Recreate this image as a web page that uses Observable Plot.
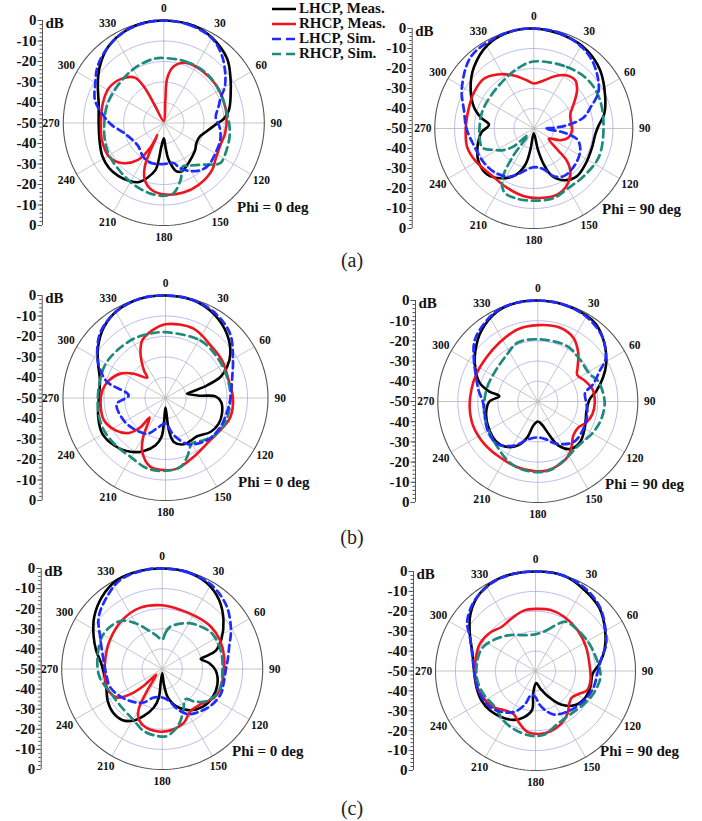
<!DOCTYPE html>
<html><head><meta charset="utf-8">
<script src="https://cdn.jsdelivr.net/npm/d3@7"></script>
<script src="https://cdn.jsdelivr.net/npm/@observablehq/plot@0.6"></script>
<style>
body{margin:0;background:#fff;}
#page{position:relative;width:702px;height:821px;overflow:hidden;font-family:"Liberation Serif","Times New Roman",serif;color:#111;}
#page svg, #page svg text{font-family:"Liberation Serif","Times New Roman",serif !important;font-weight:bold;}
.panel{position:absolute;}
.phi{position:absolute;font-weight:bold;font-size:15px;white-space:nowrap;line-height:15px;height:15px;}
.sub{position:absolute;font-size:20px;line-height:1;transform:translate(-50%,-50%);color:#222;}
.leg{position:absolute;display:flex;align-items:center;font-weight:bold;font-size:15px;line-height:13px;height:13px;white-space:nowrap;}
.leg svg{margin-right:2px;display:block;}
</style></head><body><div id="page"></div>
<script>
// ---------- DATA: [angle (deg, clockwise from top), level (dB)] ----------
const angleTicks = [0,30,60,90,120,150,180,210,240,270,300,330];
const dbTicks = [-50,-40,-30,-20,-10,0,10,20,30,40,50]; // axis offsets; label = |v| - 50
const gridLevels = [-40,-30,-20,-10];
const seriesNames = ["LHCP, Meas.","RHCP, Meas.","LHCP, Sim.","RHCP, Sim."];
const panelLetters = ["(a)","(b)","(c)"];
const phiLabels = ["Phi = 0 deg","Phi = 90 deg"];

// (a) Phi = 0
const aL_LHCP_meas = [[0,0],[18,-0.3],[30,-2],[45,-5.5],[56,-10],[69,-14.4],[79,-17],[86,-20],[92,-24.4],[102,-28.7],[111,-31],[122,-31],[130,-29.6],[141,-28.1],[152,-26.1],[159,-24.8],[165,-25.6],[169,-28.5],[173,-32.7],[176,-38.5],[180,-42.5],[186,-38.4],[188,-31.9],[190,-26.9],[197,-22.1],[204,-18.4],[211,-17],[221,-15.7],[231,-15],[242,-15.4],[255,-16.9],[270,-17.6],[286,-16.3],[300,-12.1],[310,-8.2],[322,-4],[334,-1.6],[347,-0.2]];
const aL_RHCP_meas = [[0,-49],[4,-39],[4.5,-28],[10,-22],[21,-18.6],[37,-18.2],[54,-18.1],[70,-18.4],[83,-18.5],[100,-19.1],[109,-19.8],[125,-18.7],[133,-16.9],[150,-15.2],[164,-14.7],[180,-15.2],[191,-17],[199,-20.8],[204,-26.8],[206,-33.6],[208.4,-43.3],[209,-36.8],[215.5,-27.9],[227,-21.4],[239,-18.2],[255,-18.1],[270,-18.7],[287,-18.2],[302,-17.8],[316,-19.9],[327,-23.6],[331,-30.2],[332.6,-39.6]];
const aL_LHCP_sim = [[0,0],[15,-0.5],[30,-2.2],[41,-6.1],[51,-10.7],[60,-15],[66,-18.9],[75,-22],[83.5,-24],[95,-22],[106.5,-20.7],[120,-20.4],[132,-19.7],[141,-20.5],[151,-23.2],[160,-26.6],[166,-29.9],[180,-30],[198,-29.5],[212,-30.6],[229,-33],[255,-30],[268,-24],[276,-20.2],[288,-14],[299,-11],[310,-7],[322,-4],[335,-1.5],[348,-0.3]];
const aL_RHCP_sim = [[0,-18.3],[20,-18.1],[40,-17.8],[58,-18.2],[74,-18.4],[97,-16.9],[113,-16.1],[125,-15.8],[132,-19.7],[139,-23],[148,-25.5],[156,-26.8],[163,-21.2],[172,-15.4],[180,-14.5],[193,-15.1],[209,-16.7],[225,-18.1],[240,-18.6],[254,-19.5],[270,-20.4],[288,-20.5],[310,-20.7],[332,-19.5],[351,-18.3]];
// (a) Phi = 90
const aR_LHCP_meas = [[0,0],[20,-1.2],[34.5,-2.6],[49,-5.6],[66.6,-10.7],[78.5,-13.7],[87.7,-17.3],[95.3,-18.8],[108,-19.1],[124.6,-18.4],[137.5,-17.7],[148.3,-19.6],[158.8,-24.5],[164.3,-31.4],[169,-39.4],[180,-47.6],[189.2,-39.4],[193.2,-31.5],[201.6,-24.9],[213.9,-20],[225.6,-17.1],[238.3,-17.4],[248.5,-19.3],[258,-21.5],[266,-23.5],[274.7,-27.3],[281.7,-22.6],[289.3,-18],[302.9,-12],[315.5,-6.9],[330.6,-2.2],[344.3,-0.3]];
const aR_RHCP_meas = [[0,-27.5],[11.8,-25.5],[21.2,-22.1],[32.3,-18.6],[41.2,-18.1],[49,-21.1],[58.7,-26.4],[68.7,-30.2],[80.9,-31],[93.5,-30.7],[104.4,-31.9],[113.6,-35.4],[123.7,-40.9],[131.5,-34.3],[134.1,-26.7],[140.2,-21.1],[149.4,-17.1],[160.4,-14.9],[174.5,-15.1],[188.4,-15.8],[204.3,-17.4],[223.5,-18.3],[241,-16.4],[254.1,-15.1],[269.2,-15.6],[287.9,-15.6],[301,-14.8],[314.6,-14.6],[325.7,-17.3],[339.2,-21.6],[352,-25.8]];
const aR_LHCP_sim = [[0,0],[15,-0.5],[30,-2.5],[43,-5.7],[60,-12.2],[70,-19.6],[77.6,-24.2],[84,-32.3],[88,-40],[91,-44.1],[97.6,-34.8],[103.8,-27.5],[113.9,-24.3],[130.6,-22.4],[147.6,-21.8],[157,-24.1],[166,-28.9],[180,-30.7],[196.9,-26.8],[207.5,-22.8],[222,-20.5],[237,-19.5],[255,-18.5],[270,-16],[284,-13.7],[298.5,-8.6],[318.3,-2.1],[335,-0.8],[348,0]];
const aR_RHCP_sim = [[0,-16.5],[28.6,-15],[49,-13.4],[67.5,-13.7],[92,-14.8],[114,-14.2],[133.4,-15.3],[149.3,-15.5],[163.8,-13.8],[180,-13.9],[193.5,-13.9],[205,-14.8],[212,-20],[217,-32],[222,-45.5],[229,-36],[236,-30.5],[241,-27.9],[250,-22.3],[274.6,-22.6],[292.8,-22.7],[320.6,-22.2],[344.3,-19]];
// (b) Phi = 0
const bL_LHCP_meas = [[0,0],[16.2,-0.5],[29.8,-2.7],[43.8,-6.7],[55.7,-11.7],[63.3,-16.4],[69.1,-21.3],[73.1,-28.8],[76.1,-35.8],[78.7,-39.3],[86.2,-33],[88.1,-25.6],[94.1,-22.8],[105.5,-21.4],[115.7,-21.2],[127.1,-22.5],[140.4,-25.8],[150,-25.8],[158.4,-25.7],[169.3,-28.2],[174.1,-34.2],[180,-45.3],[183.7,-37.5],[185.9,-30.9],[191.9,-26.5],[202.2,-22.1],[213,-18.7],[227.5,-15.9],[240.6,-14.6],[254.2,-15.9],[270,-17.5],[285,-16.9],[297,-13.1],[307,-8.8],[319,-4.2],[331,-1.3],[346,0]];
const bL_RHCP_meas = [[0,-14],[22,-13.5],[40.5,-16.2],[56.4,-16.9],[74.4,-18],[90,-17.1],[106.3,-17],[118.4,-18.7],[133.3,-20],[154.3,-18.2],[170.6,-15.1],[180,-14.8],[192.3,-15.6],[203.4,-21.4],[209.8,-28.1],[219,-37.7],[220.5,-31.2],[226.3,-25.3],[237.1,-21],[250.1,-18.1],[265,-18.2],[277,-19],[287.3,-21.1],[298.4,-25],[307.5,-30.5],[318,-36.7],[322,-33],[330.6,-25.2],[338,-19.7],[348.9,-16.4]];
const bL_LHCP_sim = [[0,0],[15,-0.3],[30,-2],[45,-5.5],[60,-12],[75,-16.4],[90,-18.3],[102.8,-19.2],[117.8,-19.7],[134.5,-21],[153.3,-24.7],[167.4,-31.4],[180,-37.5],[193,-35.5],[207,-30.5],[230.4,-27.9],[247,-26.5],[263,-26],[274,-32],[285.3,-20.5],[293,-15.6],[301,-11.2],[315,-5],[330,-1.5],[345,0]];
const bL_RHCP_sim = [[0,-17.9],[31.3,-17.2],[51.6,-17.9],[71.2,-18.3],[90,-18.3],[110.1,-18.4],[124.6,-19.5],[137.8,-22.2],[149.7,-24.3],[159.8,-19.4],[167.7,-15.6],[180,-14.5],[194.5,-14.5],[210.7,-16.6],[226.6,-16.5],[242.3,-16.1],[256.9,-16.4],[270,-17],[285,-16.9],[299.8,-16.4],[314.6,-16.9],[331.9,-17.2],[345.5,-17.7]];
// (b) Phi = 90
const bR_LHCP_meas = [[0,0],[14.7,-0.3],[30,-1],[37.5,-2],[49.7,-6.2],[61.7,-11.2],[70,-15.3],[79.8,-20.2],[87.5,-24],[100.7,-25.2],[118.6,-23.2],[133.9,-20.8],[145.6,-21.5],[154.7,-25.8],[161.4,-33],[169.5,-38.3],[180,-40.1],[190.9,-37.8],[196.5,-31.5],[205,-25.9],[215.5,-22.5],[226.6,-21.3],[242.5,-22.2],[258.1,-23.6],[270,-25.8],[277.8,-30.6],[281.5,-25.3],[287.8,-19.4],[298.2,-14.5],[308.7,-10],[320.9,-5.1],[335.8,-1],[348.3,0]];
const bR_RHCP_meas = [[0,-12.2],[17,-11.8],[29.4,-13.8],[39.9,-18.5],[49.9,-24],[56.3,-26.3],[66.6,-24.3],[77.4,-22],[91,-21.5],[102.9,-22],[113,-23.5],[122.4,-26],[133.6,-25.5],[142.2,-22.3],[150.3,-19.1],[160.1,-17.1],[172.3,-15.5],[183.3,-15.5],[197.4,-15.9],[213.4,-16.5],[231.7,-16],[249.7,-15.5],[265,-15.8],[280.4,-16.3],[293.7,-16.4],[310,-16.3],[326.5,-15.1],[344,-12.9]];
const bR_LHCP_sim = [[0,0],[15,-0.3],[30,-1.5],[45,-4.5],[58,-10],[64,-15.6],[72.8,-21],[80,-26],[93,-25.6],[104.2,-24.5],[121,-23.5],[138.7,-23.1],[157.2,-27.5],[168.5,-31],[180,-32.2],[193.4,-30.9],[208.4,-25.2],[223.6,-20.9],[240,-21.1],[256.8,-22.7],[270,-22.5],[280,-20],[291,-17],[304,-11.4],[315,-5.8],[333.7,-1],[345,0]];
const bR_RHCP_sim = [[0,-19.2],[27.8,-18.9],[45.2,-20.4],[62.6,-20.7],[71.3,-18.2],[90,-16.6],[105.4,-17.1],[119,-18.4],[137.2,-20.2],[156.3,-18],[169.5,-15.5],[180,-15],[194.4,-15.5],[207.3,-17.1],[221.5,-19.7],[237.7,-21.4],[255.1,-22.4],[270,-23.3],[285.3,-23.7],[303.4,-24],[324.7,-22.4],[340.7,-19.2]];
// (c) Phi = 0
const cL_LHCP_meas = [[0,0],[14.5,-0.1],[27.9,-1.9],[39.7,-5.6],[51.6,-11.1],[63,-16.9],[71,-21.8],[73.5,-26.5],[75.4,-30.2],[82.7,-26.5],[91.8,-23.3],[105.3,-21.5],[119.5,-21.3],[133.3,-22.5],[145.4,-25.1],[158.3,-29.7],[168.7,-35.6],[173.7,-42.5],[180,-47.8],[186.3,-42.5],[186.7,-35.7],[192.3,-30.4],[201.4,-25],[210.1,-20.2],[218.3,-17.7],[228.5,-17.3],[239.8,-18.6],[251.8,-20.7],[265,-21],[276.2,-19.3],[285.6,-15.9],[296,-12],[307.4,-7.4],[320,-3.3],[333,-0.4],[347.6,0]];
const cL_RHCP_meas = [[0,-18.3],[17.3,-19.2],[34.1,-18.8],[48.8,-17.9],[63.8,-17.9],[79.3,-18.6],[94.7,-19.4],[107.4,-19.4],[118.7,-20.5],[132.4,-24],[145.8,-24.8],[157.9,-21.2],[169,-19.5],[181.5,-18.8],[194.3,-19.6],[205,-22.4],[210.3,-26.8],[214.7,-36.8],[226.6,-45.9],[227.7,-37.6],[231.7,-29.8],[237.8,-23.4],[249.8,-21],[265,-21.4],[281.7,-21.2],[300.1,-20.2],[320.4,-18.6],[340.4,-17.6]];
const cL_LHCP_sim = [[0,0],[15,-0.3],[30,-1.5],[45,-5],[60,-10.5],[72,-15],[82.7,-17.2],[90,-18.3],[103.8,-18.6],[113.2,-18.3],[127.2,-19.7],[141,-22.2],[150.9,-24.3],[159.4,-28.7],[168,-33.8],[180,-35.8],[196.4,-35.2],[208.8,-31],[218.7,-28.7],[234.7,-25.5],[250.5,-22.6],[265,-22],[281.2,-20],[297.2,-15.3],[309.2,-9.2],[322.5,-4.8],[335,-1],[350,0]];
const cL_RHCP_sim = [[0,-35.5],[5,-32],[11.1,-28.5],[30.3,-23.6],[42.2,-21.5],[55,-19.5],[72.6,-19.4],[88.4,-20],[110.9,-19.7],[125.1,-22.5],[135,-27],[142,-31],[153.3,-26.7],[163.1,-21.3],[175.7,-16.6],[184.3,-16.6],[196.6,-17.8],[209,-20.8],[228.7,-22.3],[245.7,-21.7],[262.4,-18.6],[280.3,-17.3],[301,-16],[318.8,-18.3],[329.7,-23.6],[340.8,-29.7],[350,-33]];
// (c) Phi = 90
const cR_LHCP_meas = [[0,0],[16.7,-0.1],[31,-2.5],[45.5,-5.1],[59.5,-9.6],[73.2,-14],[83.4,-17.8],[92.7,-21.4],[106.4,-21.4],[119.8,-21.9],[131.8,-24.1],[143.1,-28.9],[152.8,-35.2],[164.2,-40.7],[177,-43.9],[185.9,-38.5],[184.9,-30.4],[194.2,-26],[204,-23.1],[215.9,-21.3],[228.8,-19.8],[241.2,-19.2],[254.7,-19.4],[270,-19.3],[285.5,-17.3],[299.9,-12.1],[311.7,-6.5],[324.6,-2.1],[339.4,0]];
const cR_RHCP_meas = [[0,-18.8],[13.9,-18.4],[27.7,-19.2],[45.7,-20.6],[64.4,-22],[82.2,-22.8],[99.7,-22.1],[110.8,-22.5],[117.6,-25.3],[126.8,-27.5],[134.4,-26.4],[143.4,-23.2],[154.6,-20.5],[166,-18.8],[177,-18.3],[187.9,-19.2],[198.1,-22.9],[207,-25.8],[219.3,-24.7],[229.2,-22.2],[242.7,-20.6],[254.5,-19.8],[267.5,-19.7],[283.3,-19.4],[296.4,-19],[310.2,-20.2],[322.9,-22.1],[336,-21],[349,-19.1]];
const cR_LHCP_sim = [[0,0],[15,0],[30,-1.5],[45,-4.5],[60,-9.5],[70,-12.5],[78,-16.1],[90,-18.8],[105.5,-19.8],[119,-21.2],[137.8,-23.6],[157,-26.2],[165.7,-29.5],[174,-33.4],[180,-36.9],[189.6,-37.9],[198,-32],[207.9,-26.6],[224.3,-22.2],[235.9,-20.5],[251.2,-19.8],[265,-19.5],[282.7,-17.7],[297.6,-13],[305.9,-7.8],[319.7,-3.2],[335.3,-0.5],[348,0]];
const cR_RHCP_sim = [[0,-31.6],[16,-28.6],[24.9,-24.1],[31.5,-21],[54.9,-20.2],[70,-19.5],[93.9,-17.4],[109.8,-18.7],[124,-20.5],[140.6,-22.1],[157.6,-21.2],[172.5,-17.7],[184.4,-17.4],[200.6,-18.9],[212.7,-20.4],[228,-22.8],[246.3,-21.5],[264.1,-20.4],[283.9,-20.5],[294.9,-21.2],[310.1,-24.7],[325,-28],[346.8,-31.5]];

// ---------- STYLES & LAYOUT ----------
const FONT = "'Liberation Serif','Times New Roman',serif";
const seriesStyle = [
  {stroke:"#000000", dash:null, width:2.6},
  {stroke:"#f0141e", dash:null, width:2.6},
  {stroke:"#1f2bff", dash:"7,4.5", width:2.7},
  {stroke:"#1d8a7c", dash:"8,5", width:2.7}
];
const drawOrder = [0,1,3,2];
const layout = [
  {left:0,   width:350, cx:163.3, cy:122.5, Rx:100.5, Ry:102.5, axisX:42,    phi:[237,200], data:[aL_LHCP_meas,aL_RHCP_meas,aL_LHCP_sim,aL_RHCP_sim], phiText:0},
  {left:350, width:352, cx:533.3, cy:127.7, Rx:99,    Ry:100,   axisX:411.7, phi:[602,202], data:[aR_LHCP_meas,aR_RHCP_meas,aR_LHCP_sim,aR_RHCP_sim], phiText:1},
  {left:0,   width:350, cx:165,   cy:397.7, Rx:102.5, Ry:102.5, axisX:41.7,  phi:[238,475], data:[bL_LHCP_meas,bL_RHCP_meas,bL_LHCP_sim,bL_RHCP_sim], phiText:0},
  {left:350, width:352, cx:537.3, cy:400.7, Rx:100,   Ry:101,   axisX:415,   phi:[605,477], data:[bR_LHCP_meas,bR_RHCP_meas,bR_LHCP_sim,bR_RHCP_sim], phiText:1},
  {left:0,   width:350, cx:161.7, cy:668.3, Rx:100.5, Ry:100.5, axisX:40.7,  phi:[232,744], data:[cL_LHCP_meas,cL_RHCP_meas,cL_LHCP_sim,cL_RHCP_sim], phiText:0},
  {left:350, width:352, cx:535,   cy:670,   Rx:100,   Ry:99.5,  axisX:413,   phi:[600,744], data:[cR_LHCP_meas,cR_RHCP_meas,cR_LHCP_sim,cR_RHCP_sim], phiText:1}
];
const letterPos = [[352,260],[352,537],[352,808]];

const rad = a => a * Math.PI / 180;
const toXY = ([a, db]) => { const r = Math.max(0, db + 50); return {x: r * Math.sin(rad(a)), y: r * Math.cos(rad(a))}; };
const circlePts = (r, id) => d3.range(0, 361, 2).map(a => ({x: r * Math.sin(rad(a)), y: r * Math.cos(rad(a)), id}));

const page = document.getElementById("page");

function makePanel(cfg) {
  const {left, width, cx, cy, Rx, Ry, axisX} = cfg;
  const top = cy - Ry - 24, height = 2 * Ry + 50;
  const kx = Rx / 50;
  const marginTop = cy - Ry - top, marginBottom = top + height - (cy + Ry);
  const marginLeft = axisX - left;
  const xmin = -(cx - axisX) / kx, xmax = (left + width - cx) / kx;
  const grid = gridLevels.flatMap(db => circlePts(db + 50, db));
  const marks = [
    Plot.line(grid, {x: "x", y: "y", z: "id", stroke: "#a9a9ec", strokeWidth: 0.8}),
    Plot.link(angleTicks, {x1: () => 0, y1: () => 0, x2: a => 50 * Math.sin(rad(a)), y2: a => 50 * Math.cos(rad(a)), stroke: "#b8b8b8", strokeWidth: 0.8}),
    Plot.line(circlePts(50, "outer"), {x: "x", y: "y", stroke: "#555", strokeWidth: 1.1}),
    Plot.ruleX([xmin], {stroke: "#555", strokeWidth: 1}),
    Plot.axisY({ticks: d3.range(-50, 51, 2), tickSize: 2.5, tickFormat: () => "", label: null, stroke: "#555"}),
    Plot.axisY({ticks: dbTicks, tickSize: 4.5, tickPadding: 1.5, tickFormat: d => String(Math.abs(d) - 50), label: null, stroke: "#555", fontSize: 15, fontWeight: "bold", fontFamily: FONT}),
    Plot.text(["dB"], {frameAnchor: "top-left", dx: 3, dy: -3, textAnchor: "start", fontSize: 15, fontWeight: "bold", fontFamily: FONT}),
    Plot.text(angleTicks, {x: a => 56 * Math.sin(rad(a)), y: a => 56 * Math.cos(rad(a)), text: a => String(a), fontSize: 11.5, fontWeight: "bold", fontFamily: FONT})
  ];
  for (const i of drawOrder) {
    const s = seriesStyle[i];
    marks.push(Plot.line(cfg.data[i].map(toXY), {x: "x", y: "y", curve: "catmull-rom-closed", stroke: s.stroke, strokeWidth: s.width, strokeDasharray: s.dash ?? undefined, strokeLinejoin: "round"}));
  }
  const svg = Plot.plot({
    width, height, marginTop, marginBottom, marginLeft, marginRight: 0,
    x: {domain: [xmin, xmax], axis: null},
    y: {domain: [-50, 50]},
    style: {fontFamily: FONT, fontWeight: "bold", fontSize: "15px", background: "transparent", overflow: "visible", color: "#111"},
    marks
  });
  svg.classList.add("panel");
  svg.style.left = left + "px";
  svg.style.top = top + "px";
  svg.style.position = "absolute";
  page.appendChild(svg);

  const phi = document.createElement("div");
  phi.className = "phi";
  phi.textContent = phiLabels[cfg.phiText];
  phi.style.left = cfg.phi[0] + "px";
  phi.style.top = cfg.phi[1] + "px";
  page.appendChild(phi);
}
layout.forEach(makePanel);

panelLetters.forEach((t, i) => {
  const d = document.createElement("div");
  d.className = "sub";
  d.textContent = t;
  d.style.left = letterPos[i][0] + "px";
  d.style.top = letterPos[i][1] + "px";
  page.appendChild(d);
});

// legend
seriesNames.forEach((name, i) => {
  const s = seriesStyle[i];
  const row = document.createElement("div");
  row.className = "leg";
  row.style.left = "272px";
  row.style.top = (2 + i * 15) + "px";
  row.innerHTML = `<svg width="25" height="12"><line x1="0" x2="24" y1="6" y2="6" stroke="${s.stroke}" stroke-width="2.5" ${s.dash ? 'stroke-dasharray="9,5"' : ""}/></svg><span>${name}</span>`;
  page.appendChild(row);
});
</script></body></html>
